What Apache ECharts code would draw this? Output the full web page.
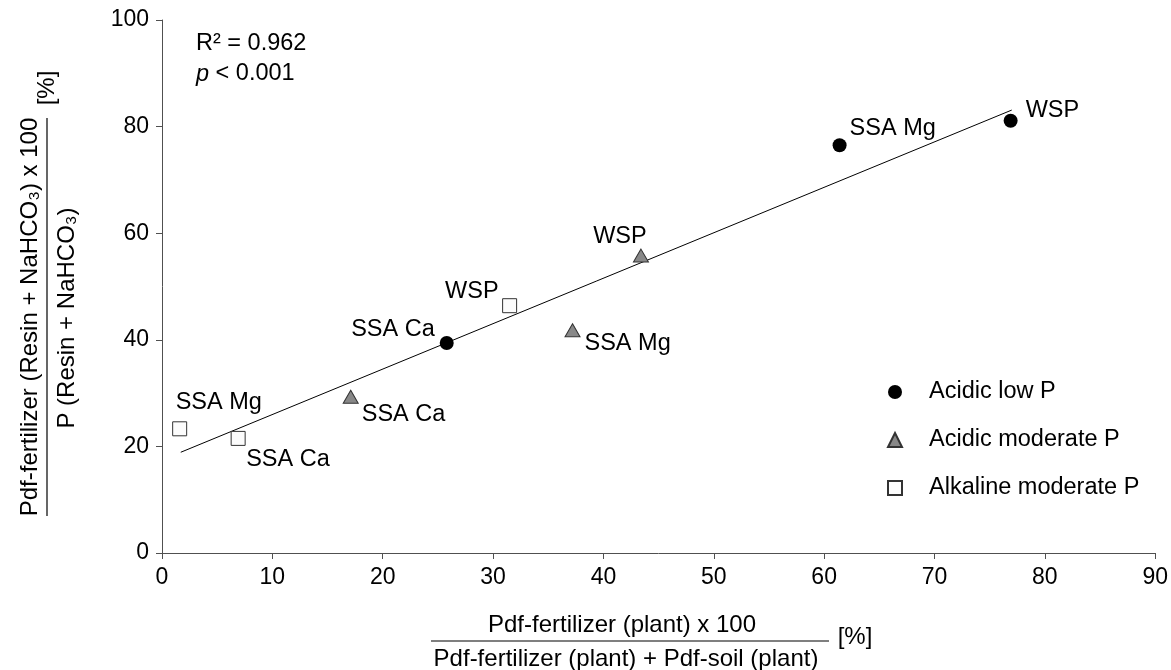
<!DOCTYPE html>
<html>
<head>
<meta charset="utf-8">
<script src="https://cdn.jsdelivr.net/npm/echarts@6/dist/echarts.min.js"></script>
<style>
html,body{margin:0;padding:0;background:#fff;}
#chart{width:1171px;height:670px;}
</style>
</head>
<body>
<div id="chart"></div>
<script>
// ---- data ----
var seriesNames = ['Acidic low P', 'Acidic moderate P', 'Alkaline moderate P'];
var lowNames = ['SSA Ca', 'SSA Mg', 'WSP'];
var lowX = [25.8, 61.4, 76.9];
var lowY = [39.4, 76.5, 81.1];
var modNames = ['SSA Ca', 'SSA Mg', 'WSP'];
var modX = [17.1, 37.2, 43.4];
var modY = [29.3, 41.8, 55.8];
var alkNames = ['SSA Mg', 'SSA Ca', 'WSP'];
var alkX = [1.6, 6.9, 31.5];
var alkY = [23.3, 21.5, 46.4];
var trendX = [1.7, 77.0];
var trendY = [18.9, 83.1];
var xTicks = [0, 10, 20, 30, 40, 50, 60, 70, 80, 90];
var yTicks = [0, 20, 40, 60, 80, 100];
var statR2 = '0.962';
var statP = '0.001';

// ---- label placement (style only) ----
var FONT = "'Liberation Sans', Arial, sans-serif";
var FS = 23.5;
var labelStyle = {
  low: {
    'SSA Ca': {align: 'right', offset: [-12, -13]},
    'SSA Mg': {align: 'left', offset: [10, -17]},
    'WSP': {align: 'left', offset: [15, -10]}
  },
  mod: {
    'SSA Ca': {align: 'left', offset: [11, 18]},
    'SSA Mg': {align: 'left', offset: [12, 13]},
    'WSP': {align: 'center', offset: [-21, -19]}
  },
  alk: {
    'SSA Mg': {align: 'left', offset: [-4, -26]},
    'SSA Ca': {align: 'left', offset: [8, 21]},
    'WSP': {align: 'right', offset: [-11, -14]}
  }
};

function build(names, xs, ys, key) {
  return names.map(function (n, i) {
    var ls = labelStyle[key][n];
    return {
      name: n,
      value: [xs[i], ys[i]],
      label: {
        show: true,
        position: 'inside',
        formatter: n,
        align: ls.align,
        verticalAlign: 'middle',
        offset: ls.offset,
        color: '#000',
        fontSize: FS,
        fontFamily: FONT
      }
    };
  });
}

var trendData = trendX.map(function (x, i) { return [x, trendY[i]]; });

var chart = echarts.init(document.getElementById('chart'), null, {renderer: 'canvas'});
var option = {
  backgroundColor: '#fff',
  animation: false,
  textStyle: {fontFamily: FONT},
  grid: {left: 162, right: 8, top: 20, bottom: 117, containLabel: false},
  xAxis: {
    type: 'value', min: xTicks[0], max: xTicks[xTicks.length - 1], interval: 10,
    axisLine: {show: true, onZero: false, lineStyle: {color: '#505050', width: 1}},
    axisTick: {show: true, length: 6, lineStyle: {color: '#505050'}},
    splitLine: {show: false},
    axisLabel: {fontSize: 23, color: '#000', margin: 13, fontFamily: FONT}
  },
  yAxis: {
    type: 'value', min: yTicks[0], max: yTicks[yTicks.length - 1], interval: 20,
    axisLine: {show: true, onZero: false, lineStyle: {color: '#505050', width: 1}},
    axisTick: {show: true, length: 6, lineStyle: {color: '#505050'}},
    splitLine: {show: false},
    axisLabel: {fontSize: 23, color: '#000', margin: 13, fontFamily: FONT}
  },
  legend: {
    orient: 'vertical',
    left: 882, top: 374,
    itemWidth: 14, itemHeight: 14,
    itemGap: 22,
    data: seriesNames,
    textStyle: {fontSize: FS, color: '#000', fontFamily: FONT, padding: [0, 0, 0, 22], lineHeight: 26}
  },
  series: [
    {
      type: 'line', name: 'trend', data: trendData, showSymbol: false, symbol: 'none',
      lineStyle: {color: '#000', width: 1}, silent: true, z: 1
    },
    {
      type: 'scatter', name: seriesNames[0], symbol: 'circle', symbolSize: 14,
      itemStyle: {color: '#000', borderColor: '#000', borderWidth: 0, opacity: 1},
      data: build(lowNames, lowX, lowY, 'low'), z: 3
    },
    {
      type: 'scatter', name: seriesNames[1], symbol: 'triangle', symbolSize: [15, 13],
      itemStyle: {color: '#888888', borderColor: '#333', borderWidth: 1, opacity: 1},
      data: build(modNames, modX, modY, 'mod'), z: 3
    },
    {
      type: 'scatter', name: seriesNames[2], symbol: 'rect', symbolSize: 14,
      itemStyle: {color: '#fcfcfc', borderColor: '#333', borderWidth: 1, opacity: 1},
      data: build(alkNames, alkX, alkY, 'alk'), z: 3
    }
  ],
  graphic: [
    {
      type: 'text', left: 196, top: 32,
      style: {
        text: 'R\u00b2 = ' + statR2,
        font: FS + 'px ' + FONT, fill: '#000'
      }
    },
    {
      type: 'text', left: 196, top: 62,
      style: {
        text: '{i|p} < ' + statP,
        rich: {i: {fontStyle: 'italic', fontSize: FS, fontFamily: FONT}},
        font: FS + 'px ' + FONT, fill: '#000'
      }
    },
    // y axis title (fraction)
    {
      type: 'text', x: 30, y: 317, rotation: Math.PI / 2,
      style: {
        text: 'Pdf-fertilizer (Resin + NaHCO\u2083) x 100',
        font: '24px ' + FONT, fill: '#000', align: 'center', verticalAlign: 'middle'
      }
    },
    {
      type: 'line', shape: {x1: 47, y1: 118, x2: 47, y2: 516},
      style: {stroke: '#000', lineWidth: 1.2}
    },
    {
      type: 'text', x: 67, y: 318, rotation: Math.PI / 2,
      style: {
        text: 'P (Resin + NaHCO\u2083)',
        font: '24px ' + FONT, fill: '#000', align: 'center', verticalAlign: 'middle'
      }
    },
    {
      type: 'text', x: 47, y: 88, rotation: Math.PI / 2,
      style: {
        text: '[%]',
        font: '24px ' + FONT, fill: '#000', align: 'center', verticalAlign: 'middle'
      }
    },
    // x axis title (fraction)
    {
      type: 'text', x: 622, y: 625,
      style: {
        text: 'Pdf-fertilizer (plant) x 100',
        font: '24px ' + FONT, fill: '#000', align: 'center', verticalAlign: 'middle'
      }
    },
    {
      type: 'line', shape: {x1: 431, y1: 641, x2: 829, y2: 641},
      style: {stroke: '#000', lineWidth: 1.2}
    },
    {
      type: 'text', x: 626, y: 659,
      style: {
        text: 'Pdf-fertilizer (plant) + Pdf-soil (plant)',
        font: '24px ' + FONT, fill: '#000', align: 'center', verticalAlign: 'middle'
      }
    },
    {
      type: 'text', x: 855, y: 637,
      style: {
        text: '[%]',
        font: '24px ' + FONT, fill: '#000', align: 'center', verticalAlign: 'middle'
      }
    }
  ]
};
chart.setOption(option);
</script>
</body>
</html>
